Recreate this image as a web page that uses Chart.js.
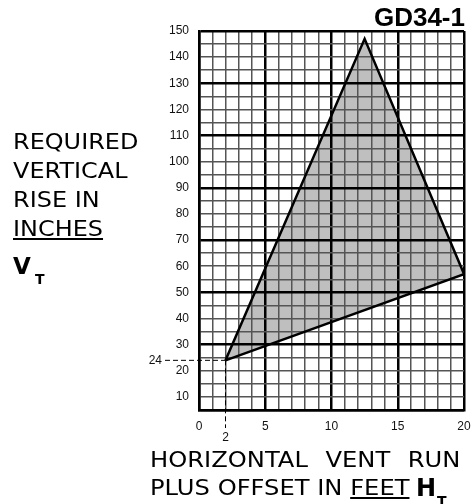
<!DOCTYPE html>
<html>
<head>
<meta charset="utf-8">
<script src="https://cdn.jsdelivr.net/npm/chart.js@4.4.1/dist/chart.umd.min.js"></script>
<style>
  html, body { margin: 0; padding: 0; background: #fff; }
  #wrap { position: relative; width: 472px; height: 504px; overflow: hidden; }
  #wrap canvas { position: absolute; left: 0; top: 0; }
  .lbl { position: absolute; line-height: 1; color: #000; white-space: nowrap; font-family: "DejaVu Sans", Verdana, sans-serif; transform-origin: 0 0; }
  #title { right: 7px; top: 4px; font-family: "Liberation Sans", Arial, sans-serif; font-weight: bold; font-size: 26px; }
  #yTitle { left: 13px; top: 128px; font-size: 21px; line-height: 29px; transform: scaleX(1.14); }
  u { text-decoration-thickness: 1.5px; text-underline-offset: 2px; }
  .bold { font-weight: bold; }
  #xTitle1 { left: 150px; top: 449px; font-size: 22px; word-spacing: 9px; transform: scaleX(1.1); }
  #xTitle2 { left: 150px; top: 477px; font-size: 22px; transform: scaleX(1.1); }
</style>
</head>
<body>
<div id="wrap">
  <canvas id="ventChart" width="472" height="504"></canvas>
  <div class="lbl" id="title">GD34-1</div>
  <div class="lbl" id="yTitle">REQUIRED<br>VERTICAL<br>RISE IN<br><u>INCHES</u></div>
  <div class="lbl bold" style="left:13px; top:255px; font-size:23px;">V</div>
  <div class="lbl bold" style="left:35px; top:272px; font-size:14px;">T</div>
  <div class="lbl" id="xTitle1">HORIZONTAL VENT RUN</div>
  <div class="lbl" id="xTitle2">PLUS OFFSET IN <u>FEET </u></div>
  <div class="lbl bold" style="left:416px; top:476px; font-size:24px;">H</div>
  <div class="lbl bold" style="left:437px; top:494px; font-size:14px;">T</div>
</div>
<script>
// zone corners (feet of horizontal run, inches of vertical rise), closed back to the start
const runFeet = [2, 12.5, 20, 2];
const riseInches = [24, 147, 57, 24];

// axis ticks
const xTickLabels = [0, 5, 10, 15, 20];
const yTickLabels = [10, 20, 30, 40, 50, 60, 70, 80, 90, 100, 110, 120, 130, 140, 150];
const yHeavyLines = [5, 30, 50, 70, 90, 110, 130, 150];

// the marked minimum point, with its dashed guides
const minRun = 2;
const minRise = 24;

const guidePlugin = {
    id: 'guides',
    afterDraw(chart) {
        const ctx = chart.ctx;
        const xs = chart.scales.x, ys = chart.scales.y;
        const px = xs.getPixelForValue(minRun);
        const py = ys.getPixelForValue(minRise);
        const area = chart.chartArea;
        ctx.save();
        ctx.strokeStyle = '#000';
        ctx.lineWidth = 1;
        ctx.setLineDash([5, 3]);
        ctx.beginPath();
        ctx.moveTo(area.left - 34, py);
        ctx.lineTo(px, py);
        ctx.moveTo(px, py);
        ctx.lineTo(px, area.bottom + 18);
        ctx.stroke();
        ctx.setLineDash([]);
        ctx.fillStyle = '#111';
        ctx.font = '12px "Liberation Sans", Arial, sans-serif';
        ctx.textAlign = 'right';
        ctx.textBaseline = 'middle';
        ctx.fillText(String(minRise), area.left - 37, py);
        ctx.textAlign = 'center';
        ctx.textBaseline = 'top';
        ctx.fillText(String(minRun), px, area.bottom + 22);
        ctx.restore();
    }
};

const tickFont = { family: '"Liberation Sans", Arial, sans-serif', size: 12 };

new Chart(document.getElementById('ventChart'), {
    type: 'scatter',
    data: {
        datasets: [{
            data: runFeet.map((x, i) => ({ x: x, y: riseInches[i] })),
            showLine: true,
            fill: 'shape',
            backgroundColor: '#bfbfbf',
            borderColor: '#000',
            borderWidth: 2.5,
            pointRadius: 0,
            tension: 0
        }]
    },
    options: {
        responsive: false,
        animation: false,
        layout: { padding: { top: 31, right: 0, left: 0, bottom: 0 } },
        plugins: {
            legend: { display: false },
            tooltip: { enabled: false },
            filler: { drawTime: 'beforeDraw' }
        },
        scales: {
            x: {
                type: 'linear',
                min: 0,
                max: 20,
                afterFit: s => { s.height = 94; s.paddingRight = 8; s.paddingLeft = 0; },
                ticks: {
                    stepSize: 1,
                    autoSkip: false,
                    maxRotation: 0,
                    padding: 9,
                    color: '#111',
                    font: tickFont,
                    callback: v => xTickLabels.includes(v) ? String(v) : ''
                },
                grid: {
                    drawTicks: false,
                    color: c => c.tick && c.tick.value % 5 === 0 ? '#000' : '#555',
                    lineWidth: c => c.tick && c.tick.value % 5 === 0 ? 2.5 : 1.5
                },
                border: { display: true, color: '#000', width: 2.5 }
            },
            y: {
                type: 'linear',
                min: 5,
                max: 150,
                afterFit: s => { s.width = 199; },
                ticks: {
                    stepSize: 5,
                    autoSkip: false,
                    padding: 10,
                    color: '#111',
                    font: tickFont,
                    callback: v => yTickLabels.includes(v) ? String(v) : ''
                },
                grid: {
                    drawTicks: false,
                    color: c => c.tick && yHeavyLines.includes(c.tick.value) ? '#000' : '#555',
                    lineWidth: c => c.tick && yHeavyLines.includes(c.tick.value) ? 2.5 : 1.5
                },
                border: { display: true, color: '#000', width: 2.5 }
            }
        }
    },
    plugins: [guidePlugin]
});
</script>
</body>
</html>
